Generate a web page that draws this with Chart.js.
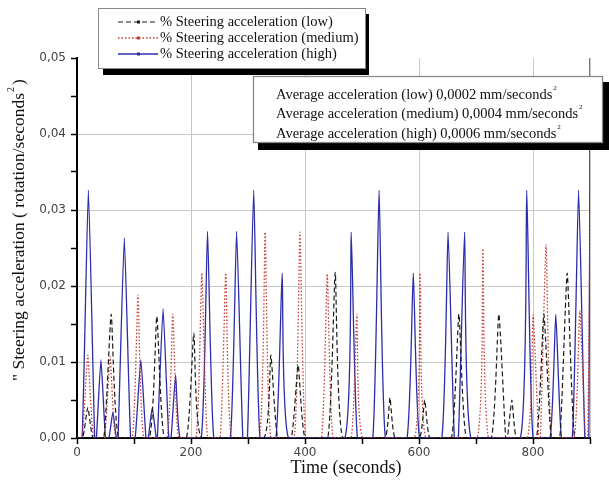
<!DOCTYPE html>
<html>
<head>
<meta charset="utf-8">
<title>Steering acceleration</title>
<script src="https://cdn.jsdelivr.net/npm/chart.js@4.4.1/dist/chart.umd.min.js"></script>
<style>
  html, body { margin: 0; padding: 0; background: #fff; }
  canvas { display: block; }
</style>
</head>
<body>
<canvas id="myChart" width="609" height="485"></canvas>
<script>
// values: time (s) and steering acceleration
let lowX = [0, 10, 19, 28, 47, 60, 73, 127, 140, 153, 192, 205, 218, 328, 340, 352, 376, 388, 400,
    440, 453, 466, 540, 549, 558, 601, 610, 619, 657, 670, 683, 727, 740, 752, 755, 763, 771,
    806, 819, 832, 847, 860, 873, 900];
let lowY = [0, 0, 0.004, 0, 0, 0.0163, 0, 0, 0.016, 0, 0, 0.0138, 0, 0, 0.0109, 0, 0, 0.0096, 0,
    0, 0.0218, 0, 0, 0.0053, 0, 0, 0.005, 0, 0, 0.0163, 0, 0, 0.0163, 0, 0, 0.005, 0,
    0, 0.0163, 0, 0, 0.0217, 0, 0];

let mediumX = [0, 9, 19, 29, 48, 58, 68, 97, 107, 117, 158, 168, 178, 209, 219, 229, 251, 261, 271,
    320, 330, 340, 381, 391, 401, 429, 439, 449, 481, 491, 501, 592, 602, 612, 702, 712, 722,
    790, 800, 810, 813, 823, 833, 872, 882, 892, 896, 900];
let mediumY = [0, 0, 0.0109, 0, 0, 0.0107, 0, 0, 0.0188, 0, 0, 0.0163, 0, 0, 0.0217, 0, 0, 0.0217, 0,
    0, 0.0271, 0, 0, 0.0271, 0, 0, 0.0216, 0, 0, 0.0163, 0, 0, 0.0217, 0, 0, 0.0249, 0,
    0, 0.0162, 0, 0, 0.0254, 0, 0, 0.0168, 0, 0, 0.0296];

let highX = [0, 9, 20, 31, 34, 42, 50, 56, 63, 69, 72, 83, 94, 102, 112, 121, 125, 132, 139,
    141, 151, 161, 165, 173, 181, 218, 229, 240, 269, 280, 291, 299, 310, 321, 349, 360, 371,
    470, 481, 492, 519, 530, 541, 579, 590, 601, 640, 651, 662, 669, 680, 691, 778, 789, 800,
    830, 840, 850, 869, 880, 891, 898, 900];
let highY = [0, 0, 0.0326, 0, 0, 0.0103, 0, 0, 0.0034, 0, 0, 0.0263, 0, 0, 0.0103, 0, 0, 0.004, 0,
    0, 0.017, 0, 0, 0.0083, 0, 0, 0.0272, 0, 0, 0.0272, 0, 0, 0.0326, 0, 0, 0.0217, 0,
    0, 0.0271, 0, 0, 0.0326, 0, 0, 0.0217, 0, 0, 0.0271, 0, 0, 0.0271, 0, 0, 0.0326, 0,
    0, 0.0163, 0, 0, 0.0326, 0, 0, 0.05];

let seriesNames = ['% Steering acceleration (low)', '% Steering acceleration (medium)', '% Steering acceleration (high)'];
let averageNames = ['Average acceleration (low)', 'Average acceleration (medium)', 'Average acceleration (high)'];
let averageValues = ['0,0002', '0,0004', '0,0006'];
let xTickLabels = [0, 200, 400, 600, 800];
let yTickLabels = [0, 0.01, 0.02, 0.03, 0.04, 0.05];

function toPoints(xs, ys) {
    let pts = [];
    xs.forEach((x, i) => pts.push({x: x, y: ys[i]}));
    return pts;
}

function isLabelX(v) { return xTickLabels.indexOf(v) >= 0; }
function isLabelY(v) { return yTickLabels.some(t => Math.abs(t - v) < 1e-9); }

function drawSup(ctx, text, sup, x, y, font, supFont, rise) {
    ctx.font = font;
    ctx.fillText(text, x, y);
    let w = ctx.measureText(text).width;
    ctx.font = supFont;
    ctx.fillText(sup, x + w + 1, y - rise);
    return w;
}

let boxesPlugin = {
    id: 'boxes',
    afterDraw(chart) {
        let ctx = chart.ctx;
        ctx.save();

        // legend box with drop shadow
        ctx.fillStyle = '#000';
        ctx.fillRect(103, 14, 266, 61);
        ctx.fillStyle = '#fff';
        ctx.fillRect(98, 8, 268, 61);
        ctx.strokeStyle = '#888';
        ctx.lineWidth = 1;
        ctx.strokeRect(98.5, 8.5, 267, 60);
        ctx.textBaseline = 'middle';
        ctx.textAlign = 'left';
        chart.data.datasets.forEach((ds, i) => {
            let y = 22 + i * 16;
            ctx.strokeStyle = ds.borderColor;
            ctx.lineWidth = ds.borderWidth;
            ctx.setLineDash(ds.borderDash || []);
            ctx.beginPath();
            ctx.moveTo(118, y);
            ctx.lineTo(158, y);
            ctx.stroke();
            ctx.setLineDash([]);
            ctx.fillStyle = ds.borderColor;
            ctx.fillRect(137, y - 1.5, 3, 3);
            ctx.fillStyle = '#111';
            ctx.font = '14.5px "Liberation Serif"';
            ctx.fillText(ds.label, 160, y);
        });

        // averages box
        ctx.fillStyle = '#000';
        ctx.fillRect(258, 82, 351, 68);
        ctx.fillStyle = '#fff';
        ctx.fillRect(253, 76, 350, 67);
        ctx.strokeStyle = '#888';
        ctx.strokeRect(253.5, 76.5, 349, 66);
        ctx.fillStyle = '#111';
        ctx.textBaseline = 'middle';
        averageNames.forEach((n, i) => {
            let y = 95 + i * 19.5;
            drawSup(ctx, n + ' ' + averageValues[i] + ' mm/seconds', '2', 276, y,
                '14.5px "Liberation Serif"', '7px "Liberation Serif"', 7);
        });

        // axis titles
        ctx.fillStyle = '#111';
        ctx.textAlign = 'left';
        ctx.textBaseline = 'middle';
        ctx.font = '18px "Liberation Serif"';
        let xt = 'Time (seconds)';
        let xw = ctx.measureText(xt).width;
        ctx.fillText(xt, 346 - xw / 2, 468);

        ctx.translate(19, 232);
        ctx.rotate(-Math.PI / 2);
        let f = '17.5px "Liberation Serif"';
        ctx.font = f;
        let yt = '" Steering acceleration ( rotation/seconds';
        let yw = ctx.measureText(yt).width;
        let w = drawSup(ctx, yt, '2', -yw / 2 - 5, 0, f, '10px "Liberation Serif"', 8);
        ctx.font = f;
        ctx.fillText(')', -yw / 2 - 5 + w + 8, 0);
        ctx.restore();
    }
};

let ctx = document.getElementById('myChart').getContext('2d');
let myChart = new Chart(ctx, {
    type: 'line',
    data: {
        datasets: [{
            label: seriesNames[0],
            data: toPoints(lowX, lowY),
            borderColor: '#1a1a1a',
            borderWidth: 1.2,
            borderDash: [5, 3]
        }, {
            label: seriesNames[1],
            data: toPoints(mediumX, mediumY),
            borderColor: 'rgb(200,60,50)',
            borderWidth: 1.3,
            borderDash: [1.5, 2]
        }, {
            label: seriesNames[2],
            data: toPoints(highX, highY),
            borderColor: 'rgb(45,45,170)',
            borderWidth: 1.3
        }]
    },
    options: {
        responsive: false,
        animation: false,
        devicePixelRatio: 1,
        elements: { point: { radius: 0 }, line: { tension: 0.15 } },
        layout: { padding: { top: 58, right: 19, left: 0, bottom: 0 } },
        plugins: { legend: { display: false }, tooltip: { enabled: false } },
        scales: {
            x: {
                type: 'linear',
                min: 0,
                max: 900,
                afterFit: s => { s.height = 47; },
                border: { color: '#000', width: 2 },
                grid: {
                    color: c => (c.tick && c.tick.value > 0 && (isLabelX(c.tick.value) || c.tick.value === 900)) ? '#c8c8c8' : 'rgba(0,0,0,0)',
                    tickColor: '#000',
                    tickLength: 6,
                    tickWidth: 1.5
                },
                ticks: {
                    stepSize: 100,
                    autoSkip: false,
                    maxRotation: 0,
                    padding: 2,
                    color: '#444',
                    font: { family: '"DejaVu Sans"', size: 12 },
                    callback: v => isLabelX(v) ? String(v) : ''
                }
            },
            y: {
                min: 0,
                max: 0.05,
                afterFit: s => { s.width = 77; },
                border: { color: '#000', width: 2 },
                grid: {
                    color: c => (c.tick && c.tick.value > 0.001 && c.tick.value < 0.049 && isLabelY(c.tick.value)) ? '#c8c8c8' : 'rgba(0,0,0,0)',
                    tickColor: '#000',
                    tickLength: 6,
                    tickWidth: 1.5
                },
                ticks: {
                    stepSize: 0.005,
                    autoSkip: false,
                    padding: 5,
                    color: '#444',
                    font: { family: '"DejaVu Sans"', size: 12 },
                    callback: v => isLabelY(v) ? v.toFixed(2).replace('.', ',') : ''
                }
            }
        }
    },
    plugins: [boxesPlugin]
});
</script>
</body>
</html>
